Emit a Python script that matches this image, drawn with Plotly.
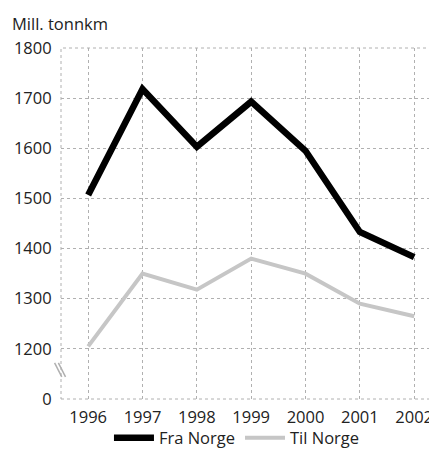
import plotly.graph_objects as go

years = [1996, 1997, 1998, 1999, 2000, 2001, 2002]
fra_norge = [1507, 1718, 1603, 1693, 1595, 1433, 1383]
til_norge = [1205, 1350, 1318, 1380, 1350, 1290, 1265]
ytick_vals = [1100, 1200, 1300, 1400, 1500, 1600, 1700, 1800]
ytick_text = ["0", "1200", "1300", "1400", "1500", "1600", "1700", "1800"]

FONT = "Open Sans, Noto Sans, sans-serif"
GRID = "#b0b0b0"

# page body has an 8px default margin, so the figure is sized to fit inside the window
fig = go.Figure()
fig.add_trace(go.Scatter(x=years, y=fra_norge, mode="lines", name="Fra Norge",
                         line=dict(color="black", width=6.5)))
fig.add_trace(go.Scatter(x=years, y=til_norge, mode="lines", name="Til Norge",
                         line=dict(color="#c6c6c6", width=4)))

fig.update_layout(
    width=429, height=443,
    margin=dict(l=53, r=0, t=40, b=52, autoexpand=False),
    paper_bgcolor="white", plot_bgcolor="white",
    font=dict(family=FONT, size=16.5, color="#222"),
    showlegend=True,
    legend=dict(orientation="h", x=0.468, xanchor="center", y=-0.111, yanchor="middle",
                font=dict(size=16.5), tracegroupgap=0, itemwidth=40,
                bgcolor="rgba(0,0,0,0)"),
    xaxis=dict(range=[1995.5, 2002.42], tickvals=years, ticktext=[str(y) for y in years],
               showgrid=True, gridcolor=GRID, griddash="dot", gridwidth=1,
               zeroline=False, showline=False, ticks="outside", ticklen=3,
               tickcolor="rgba(0,0,0,0)", automargin=False),
    yaxis=dict(range=[1100, 1800], tickvals=ytick_vals, ticktext=ytick_text,
               showgrid=True, gridcolor=GRID, griddash="dot", gridwidth=1,
               zeroline=False, showline=False, ticks="outside", ticklen=5,
               tickcolor="rgba(0,0,0,0)", automargin=False),
    annotations=[dict(text="Mill. tonnkm", xref="paper", yref="paper", x=-51/376, y=1.108,
                      xanchor="left", yanchor="top", showarrow=False,
                      font=dict(size=16.5))],
    shapes=[
        dict(type="rect", xref="paper", yref="paper", x0=0, x1=1, y0=0, y1=1,
             line=dict(color=GRID, width=1, dash="dot"), layer="below"),
        dict(type="line", xref="paper", yref="paper", x0=-0.017, x1=0.002, y0=0.103, y1=0.063,
             line=dict(color="#b0b0b0", width=1.5)),
        dict(type="line", xref="paper", yref="paper", x0=-0.007, x1=0.012, y0=0.103, y1=0.063,
             line=dict(color="#b0b0b0", width=1.5)),
    ],
)

fig.write_html("out.html")
